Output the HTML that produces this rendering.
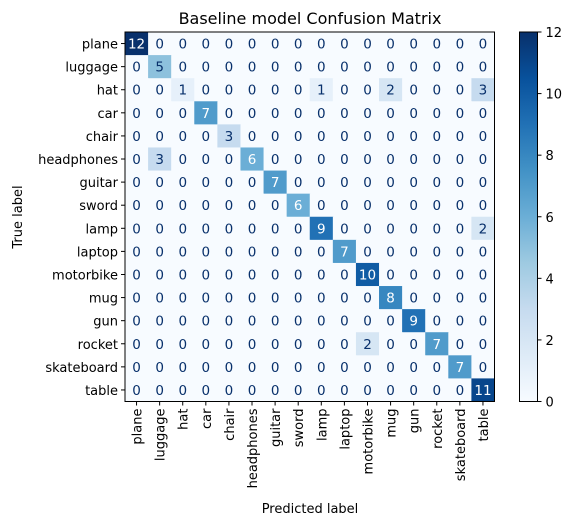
<!DOCTYPE html>
<html><head><meta charset="utf-8"><style>
body{margin:0;background:#fff;}
svg{font-family:"DejaVu Sans","Liberation Sans",sans-serif;}
</style></head><body>
<svg id="chart" width="574" height="526" xmlns="http://www.w3.org/2000/svg">
<text x="310" y="24" text-anchor="middle" font-size="16">Baseline model Confusion Matrix</text>
<g id="cells"></g>
<g id="xticks"></g>
<g id="yticks"></g>
<g id="cbar"></g>
<text x="310" y="513" text-anchor="middle" font-size="13">Predicted label</text>
<text x="0" y="0" transform="translate(22,217) rotate(-90)" text-anchor="middle" font-size="13">True label</text>
</svg>
<script>
const labels=["plane","luggage","hat","car","chair","headphones","guitar","sword","lamp","laptop","motorbike","mug","gun","rocket","skateboard","table"];
const matrix=[
[12,0,0,0,0,0,0,0,0,0,0,0,0,0,0,0],
[0,5,0,0,0,0,0,0,0,0,0,0,0,0,0,0],
[0,0,1,0,0,0,0,0,1,0,0,2,0,0,0,3],
[0,0,0,7,0,0,0,0,0,0,0,0,0,0,0,0],
[0,0,0,0,3,0,0,0,0,0,0,0,0,0,0,0],
[0,3,0,0,0,6,0,0,0,0,0,0,0,0,0,0],
[0,0,0,0,0,0,7,0,0,0,0,0,0,0,0,0],
[0,0,0,0,0,0,0,6,0,0,0,0,0,0,0,0],
[0,0,0,0,0,0,0,0,9,0,0,0,0,0,0,2],
[0,0,0,0,0,0,0,0,0,7,0,0,0,0,0,0],
[0,0,0,0,0,0,0,0,0,0,10,0,0,0,0,0],
[0,0,0,0,0,0,0,0,0,0,0,8,0,0,0,0],
[0,0,0,0,0,0,0,0,0,0,0,0,9,0,0,0],
[0,0,0,0,0,0,0,0,0,0,2,0,0,7,0,0],
[0,0,0,0,0,0,0,0,0,0,0,0,0,0,7,0],
[0,0,0,0,0,0,0,0,0,0,0,0,0,0,0,11]];
const cbarTicks=[0,2,4,6,8,10,12];
const NS="http://www.w3.org/2000/svg";
const X0=125,Y0=32,W=369.5,H=369.5,n=labels.length,cw=W/n,ch=H/n;
const vmax=Math.max(...matrix.flat()),vmin=0;
const stops=["#f7fbff","#deebf7","#c6dbef","#9ecae1","#6baed6","#4292c6","#2171b5","#08519c","#08306b"];
function hex(h){return [1,3,5].map(i=>parseInt(h.substr(i,2),16));}
function blues(t){t=Math.max(0,Math.min(1,t));const p=t*(stops.length-1),i=Math.min(Math.floor(p),stops.length-2),f=p-i;const a=hex(stops[i]),b=hex(stops[i+1]);return "rgb("+a.map((v,k)=>Math.round(v+(b[k]-v)*f)).join(",")+")";}
function xs(j){return X0+j*cw;}
function ys(i){return Y0+i*ch;}
function el(tag,attrs,parent){const e=document.createElementNS(NS,tag);for(const k in attrs)e.setAttribute(k,attrs[k]);parent.appendChild(e);return e;}
const cells=document.getElementById("cells");
const thresh=(vmax+vmin)/2;
matrix.forEach((row,i)=>row.forEach((v,j)=>{
 const r=el("rect",{x:xs(j),y:ys(i),width:cw+0.5,height:ch+0.5,fill:blues((v-vmin)/(vmax-vmin))},cells);
 
 
 const t=el("text",{x:xs(j)+cw/2,y:ys(i)+ch/2+5,"text-anchor":"middle","font-size":"13.5",fill:v>=thresh?"#ffffff":"#08306b"},cells);
 t.textContent=v;
 
 
}));
el("rect",{x:X0,y:Y0,width:W,height:H,fill:"none",stroke:"#000","stroke-width":1},cells);
const xt=document.getElementById("xticks"),yt=document.getElementById("yticks");
labels.forEach((l,k)=>{
 const cx=xs(k)+cw/2;
 el("line",{x1:cx,y1:Y0+H,x2:cx,y2:Y0+H+4,stroke:"#000"},xt);
 const t=el("text",{transform:`translate(${cx+5},${Y0+H+7}) rotate(-90)`,"text-anchor":"end","font-size":"13"},xt);
 t.textContent=l;
 
 
 const cy=ys(k)+ch/2;
 el("line",{x1:X0-4,y1:cy,x2:X0,y2:cy,stroke:"#000"},yt);
 const u=el("text",{x:X0-7,y:cy+5,"text-anchor":"end","font-size":"13"},yt);
 u.textContent=l;
 
 
});
const cb=document.getElementById("cbar");
const CX=519.5,CW=18;
const defs=el("defs",{},cb);
const g=el("linearGradient",{id:"bl",x1:0,y1:1,x2:0,y2:0},defs);
stops.forEach((s,k)=>el("stop",{offset:k/(stops.length-1),"stop-color":s},g));
el("rect",{x:CX,y:Y0,width:CW,height:H,fill:"url(#bl)",stroke:"#000","stroke-width":1},cb);
function cbY(v){return Y0+H-(v-vmin)/(vmax-vmin)*H;}
cbarTicks.forEach(v=>{
 el("line",{x1:CX+CW,y1:cbY(v),x2:CX+CW+4,y2:cbY(v),stroke:"#000"},cb);
 const t=el("text",{x:CX+CW+8,y:cbY(v)+5,"font-size":"13"},cb);
 t.textContent=v;
 
 
});
</script>
</body></html>
